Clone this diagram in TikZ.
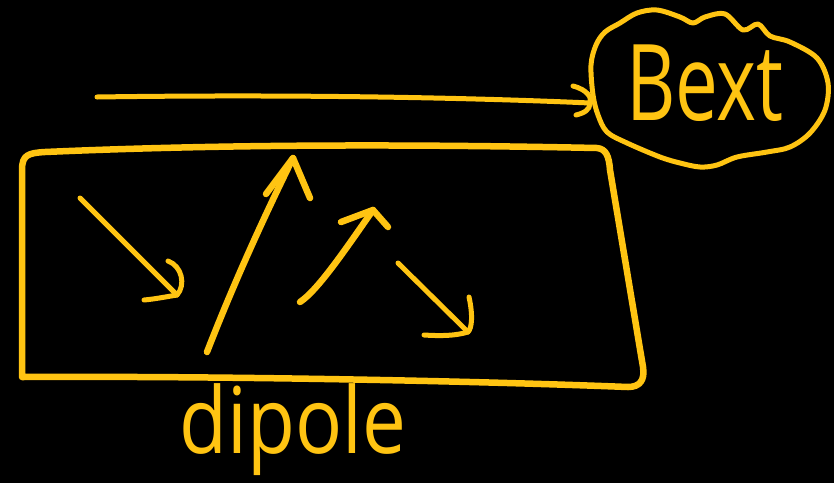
\documentclass[tikz,border=0pt]{standalone}
\usepackage{fontspec}
\setmainfont{Open Sans}
\definecolor{ink}{RGB}{255,196,18}
\tikzset{
  pen/.style={draw=ink, line width=6.5pt, line cap=round, line join=round},
  thinpen/.style={pen, line width=5pt},
  label/.style={text=ink, inner sep=0pt},
}
\begin{document}
\begin{tikzpicture}[x=1pt, y=-1pt]
  % black sheet
  \fill[black] (0,0) rectangle (834,483);
  \useasboundingbox (0,0) rectangle (834,483);

  % cloud around the external field label
  \draw[thinpen] plot[smooth cycle, tension=0.55] coordinates {
    (593,95) (591,65) (596,45) (605,32) (620,23) (637,13) (657,10) (680,17)
    (693,23) (705,17) (725,14) (743,30) (758,24) (770,36) (790,42) (817,58)
    (828,83) (825,110) (810,133) (790,147) (767,152) (737,157) (717,165)
    (700,167) (680,163) (660,157) (627,143) (607,132) (598,115)};
  \node[label, anchor=base west, font=\fontsize{106}{106}\selectfont] (bext) at (626,120) {\scalebox{0.72}[1]{Bext}};

  % field arrow pointing at the cloud
  \coordinate (fstart) at (97,97);
  \coordinate (ftip) at (590,103);
  \draw[thinpen] (fstart) .. controls (300,94) and (480,98) .. (ftip);
  \draw[thinpen] (573,86) .. controls (588,90) and (592,98) .. (ftip)
                 .. controls (590,110) and (584,113) .. (576,115);

  % the sample: a hand-drawn, slightly skewed box
  \draw[pen] (22,170) .. controls (22,155) and (28,153) .. (45,152)
     .. controls (250,143) and (450,145) .. (597,148)
     .. controls (606,149) and (609,156) .. (610,170)
     -- (643,367)
     .. controls (645,380) and (640,387) .. (628,387)
     .. controls (450,380) and (200,376) .. (22,377)
     -- cycle;

  % dipole arrows inside the box
  % arrow 1: pointing down-right, curled head
  \coordinate (a1s) at (80,198);
  \coordinate (a1t) at (177,295);
  \draw[thinpen] (a1s) -- (a1t);
  \draw[thinpen] (168,261) .. controls (182,266) and (186,285) .. (a1t)
                 .. controls (165,297) and (155,299) .. (144,300);

  % arrow 2: long, pointing up
  \coordinate (a2s) at (207,352);
  \coordinate (a2t) at (293,158);
  \draw[pen] (a2s) .. controls (235,280) and (265,215) .. (a2t);
  \draw[pen] (266,194) -- (a2t) -- (310,198);

  % arrow 3: pointing up-right
  \coordinate (a3s) at (300,302);
  \coordinate (a3t) at (373,210);
  \draw[pen] (a3s) .. controls (318,290) and (345,250) .. (a3t);
  \draw[pen] (341,222) -- (a3t) -- (388,227);

  % arrow 4: pointing down-right
  \coordinate (a4s) at (398,263);
  \coordinate (a4t) at (468,332);
  \draw[thinpen] (a4s) -- (a4t);
  \draw[thinpen] (469,297) .. controls (473,315) and (472,328) .. (a4t)
                 .. controls (455,336) and (440,336) .. (424,335);

  % caption under the box
  \node[label, anchor=base, font=\fontsize{92}{92}\selectfont] (dip) at (293,453) {\scalebox{0.85}[1]{dipole}};
\end{tikzpicture}
\end{document}
